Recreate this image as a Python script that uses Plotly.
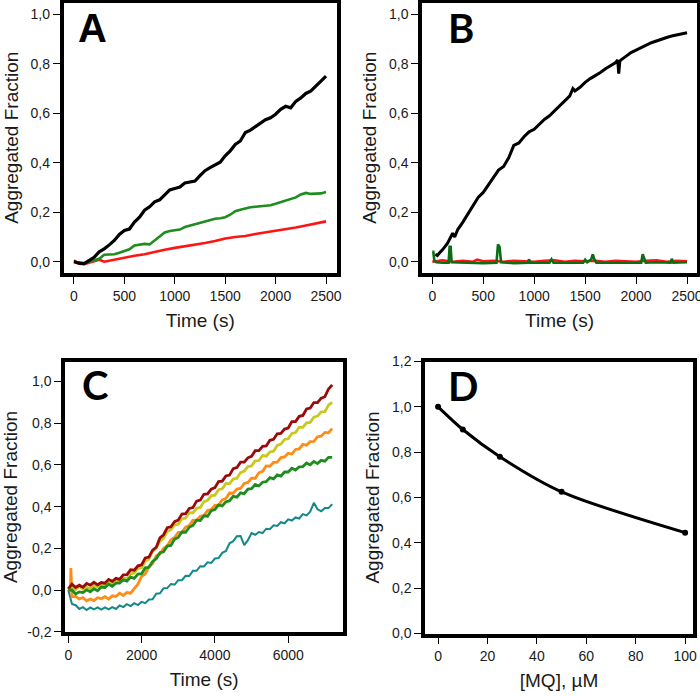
import plotly.graph_objects as go

# ---------------- Panel A ----------------
tA_black = [0, 50, 100, 150, 200, 250, 300, 350, 400, 450, 500, 550, 600, 650, 700, 750, 800, 850, 900, 950,
            1000, 1050, 1100, 1150, 1200, 1250, 1300, 1350, 1400, 1450, 1500, 1550, 1600, 1650, 1700, 1750,
            1800, 1850, 1900, 1950, 2000, 2050, 2100, 2150, 2200, 2250, 2300, 2350, 2400, 2450, 2500]
yA_black = [0.000, -0.006, -0.008, 0.004, 0.018, 0.040, 0.052, 0.068, 0.086, 0.110, 0.126, 0.132, 0.160, 0.180,
            0.208, 0.222, 0.242, 0.250, 0.268, 0.290, 0.296, 0.302, 0.318, 0.322, 0.326, 0.348, 0.368, 0.380,
            0.392, 0.402, 0.428, 0.448, 0.474, 0.488, 0.522, 0.532, 0.546, 0.560, 0.574, 0.582, 0.596, 0.616,
            0.628, 0.622, 0.648, 0.662, 0.680, 0.690, 0.712, 0.730, 0.750]
tA_green = tA_black
yA_green = [0.000, -0.004, -0.006, 0.000, 0.006, 0.012, 0.028, 0.030, 0.030, 0.036, 0.042, 0.050, 0.066, 0.070,
            0.072, 0.070, 0.086, 0.100, 0.118, 0.124, 0.126, 0.130, 0.140, 0.146, 0.150, 0.158, 0.164, 0.168,
            0.174, 0.176, 0.180, 0.190, 0.204, 0.210, 0.216, 0.220, 0.222, 0.224, 0.228, 0.228, 0.234, 0.240,
            0.246, 0.252, 0.260, 0.272, 0.278, 0.274, 0.274, 0.276, 0.282]
tA_red = [0, 50, 100, 150, 200, 250, 300, 350, 400, 500, 600, 700, 800, 900, 1000, 1100, 1200, 1300, 1400,
          1500, 1600, 1700, 1800, 1900, 2000, 2100, 2200, 2300, 2400, 2500]
yA_red = [0.006, -0.008, -0.010, -0.004, 0.004, 0.008, 0.000, 0.004, 0.010, 0.016, 0.024, 0.030, 0.040, 0.048,
          0.056, 0.062, 0.068, 0.076, 0.084, 0.094, 0.100, 0.104, 0.112, 0.118, 0.126, 0.132, 0.138, 0.146,
          0.154, 0.163]

# ---------------- Panel B ----------------
tB_black = [30, 50, 80, 100, 150, 200, 220, 250, 300, 350, 400, 450, 500, 550, 600, 650, 700, 750, 800, 850,
            900, 950, 1000, 1050, 1100, 1150, 1200, 1250, 1300, 1350, 1380, 1400, 1450, 1500, 1550, 1600, 1650,
            1700, 1750, 1800, 1820, 1830, 1840, 1850, 1900, 1950, 2000, 2050, 2100, 2150, 2200, 2250, 2300,
            2350, 2400, 2450, 2500]
yB_black = [0.030, 0.025, 0.040, 0.048, 0.075, 0.115, 0.100, 0.130, 0.160, 0.195, 0.225, 0.260, 0.280, 0.310,
            0.340, 0.370, 0.385, 0.420, 0.470, 0.480, 0.505, 0.525, 0.535, 0.555, 0.575, 0.590, 0.610, 0.630,
            0.650, 0.670, 0.700, 0.690, 0.705, 0.725, 0.740, 0.752, 0.765, 0.780, 0.792, 0.805, 0.815, 0.760,
            0.810, 0.815, 0.830, 0.845, 0.855, 0.865, 0.878, 0.885, 0.892, 0.900, 0.906, 0.912, 0.917, 0.920,
            0.925]
tB_red = [0, 100, 200, 300, 400, 440, 500, 600, 700, 800, 900, 1000, 1100, 1200, 1300, 1400, 1500, 1600, 1700,
          1800, 1900, 2000, 2100, 2200, 2300, 2400, 2500]
yB_red = [0.000, 0.006, 0.000, 0.004, 0.000, 0.008, 0.002, 0.004, 0.000, 0.004, 0.002, 0.000, 0.004, 0.006,
          0.000, 0.004, 0.002, 0.004, 0.000, 0.004, 0.002, 0.000, 0.004, 0.006, 0.000, 0.004, 0.002]
tB_green = [0, 10, 20, 40, 100, 160, 170, 180, 190, 300, 500, 630, 645, 660, 675, 800, 940, 950, 960, 1150,
            1170, 1190, 1480, 1500, 1520, 1560, 1575, 1590, 1610, 1900, 2050, 2065, 2080, 2095, 2200, 2340,
            2350, 2365, 2500]
yB_green = [0.040, 0.040, 0.005, -0.002, -0.004, -0.004, 0.060, 0.060, -0.002, -0.004, -0.006, -0.004, 0.070,
            0.060, -0.002, -0.006, -0.004, 0.010, -0.004, -0.004, 0.010, -0.004, -0.004, 0.008, -0.002, 0.010,
            0.030, 0.010, -0.004, -0.004, -0.004, 0.030, 0.010, -0.004, -0.002, -0.004, 0.012, -0.004, -0.002]

# ---------------- Panel C ----------------
tC = [0, 100, 200, 300, 400, 500, 600, 700, 800, 900, 1000, 1100, 1200, 1300, 1400, 1500, 1600, 1700, 1800,
      1900, 2000, 2100, 2200, 2300, 2400, 2500, 2600, 2700, 2800, 2900, 3000, 3100, 3200, 3300, 3400, 3500,
      3600, 3700, 3800, 3900, 4000, 4100, 4200, 4300, 4400, 4500, 4600, 4700, 4800, 4900, 5000, 5100, 5200,
      5300, 5400, 5500, 5600, 5700, 5800, 5900, 6000, 6100, 6200, 6300, 6400, 6500, 6600, 6700, 6800, 6900,
      7000, 7100, 7200]
yC_darkred = [0.005, 0.028, 0.012, 0.023, 0.013, 0.031, 0.023, 0.037, 0.025, 0.036, 0.033, 0.051, 0.042, 0.056,
              0.051, 0.073, 0.074, 0.097, 0.095, 0.116, 0.121, 0.154, 0.158, 0.191, 0.205, 0.250, 0.265, 0.299,
              0.303, 0.328, 0.335, 0.364, 0.366, 0.391, 0.395, 0.426, 0.431, 0.459, 0.461, 0.484, 0.491, 0.520,
              0.522, 0.547, 0.551, 0.582, 0.587, 0.613, 0.613, 0.634, 0.641, 0.668, 0.668, 0.689, 0.691, 0.718,
              0.723, 0.749, 0.751, 0.772, 0.777, 0.808, 0.808, 0.833, 0.837, 0.868, 0.873, 0.899, 0.899, 0.920,
              0.927, 0.964, 0.984]
yC_yellow = [0.000, 0.012, 0.002, 0.017, 0.004, 0.014, 0.006, 0.021, 0.016, 0.028, 0.021, 0.037, 0.031, 0.049,
             0.040, 0.056, 0.054, 0.077, 0.082, 0.104, 0.107, 0.137, 0.149, 0.187, 0.200, 0.234, 0.248, 0.281,
             0.290, 0.312, 0.315, 0.341, 0.345, 0.371, 0.370, 0.392, 0.396, 0.423, 0.430, 0.452, 0.455, 0.481,
             0.485, 0.511, 0.510, 0.532, 0.536, 0.563, 0.570, 0.592, 0.595, 0.619, 0.621, 0.645, 0.642, 0.662,
             0.666, 0.693, 0.700, 0.722, 0.725, 0.751, 0.755, 0.781, 0.780, 0.802, 0.804, 0.829, 0.834, 0.854,
             0.855, 0.887, 0.900]
tC_orange = [0, 60, 70, 80, 100, 200, 300, 400, 500, 600, 700, 800, 900, 1000, 1100, 1200, 1300, 1400, 1500,
             1600, 1700, 1800, 1900, 2000, 2100, 2200, 2300, 2400, 2500, 2600, 2700, 2800, 2900, 3000, 3100,
             3200, 3300, 3400, 3500, 3600, 3700, 3800, 3900, 4000, 4100, 4200, 4300, 4400, 4500, 4600, 4700,
             4800, 4900, 5000, 5100, 5200, 5300, 5400, 5500, 5600, 5700, 5800, 5900, 6000, 6100, 6200, 6300,
             6400, 6500, 6600, 6700, 6800, 6900, 7000, 7100, 7200]
yC_orange = [0.000, 0.000, 0.105, -0.010, -0.033, -0.031, -0.043, -0.036, -0.052, -0.043, -0.051, -0.037,
             -0.042, -0.032, -0.043, -0.028, -0.031, -0.015, -0.026, -0.012, -0.015, 0.007, 0.028, 0.066,
             0.077, 0.112, 0.127, 0.164, 0.172, 0.200, 0.211, 0.241, 0.252, 0.276, 0.276, 0.302, 0.309, 0.335,
             0.334, 0.354, 0.357, 0.381, 0.386, 0.406, 0.406, 0.432, 0.439, 0.465, 0.464, 0.484, 0.487, 0.511,
             0.516, 0.536, 0.536, 0.562, 0.569, 0.595, 0.594, 0.612, 0.613, 0.635, 0.638, 0.656, 0.652, 0.674,
             0.677, 0.699, 0.694, 0.712, 0.713, 0.735, 0.738, 0.756, 0.754, 0.774]
yC_green = [0.000, 0.000, -0.019, -0.009, -0.012, 0.001, -0.009, 0.006, -0.004, 0.014, 0.012, 0.028, 0.018,
            0.033, 0.033, 0.049, 0.043, 0.062, 0.056, 0.076, 0.078, 0.106, 0.109, 0.137, 0.150, 0.179, 0.183,
            0.211, 0.214, 0.244, 0.252, 0.278, 0.277, 0.301, 0.310, 0.335, 0.333, 0.356, 0.354, 0.380, 0.386,
            0.408, 0.403, 0.423, 0.428, 0.449, 0.445, 0.466, 0.462, 0.484, 0.486, 0.506, 0.499, 0.517, 0.520,
            0.539, 0.533, 0.552, 0.546, 0.566, 0.566, 0.584, 0.575, 0.591, 0.592, 0.609, 0.600, 0.616, 0.606,
            0.622, 0.618, 0.636, 0.636]
yC_teal = [0.000, -0.067, -0.073, -0.091, -0.082, -0.096, -0.084, -0.093, -0.083, -0.094, -0.083, -0.093,
           -0.082, -0.091, -0.074, -0.082, -0.068, -0.077, -0.063, -0.072, -0.057, -0.063, -0.046, -0.045,
           -0.018, -0.016, 0.008, 0.009, 0.029, 0.026, 0.047, 0.047, 0.068, 0.067, 0.092, 0.092, 0.114, 0.113,
           0.133, 0.130, 0.151, 0.153, 0.178, 0.187, 0.224, 0.234, 0.258, 0.259, 0.215, 0.239, 0.273, 0.265,
           0.278, 0.273, 0.294, 0.292, 0.310, 0.307, 0.325, 0.320, 0.339, 0.333, 0.348, 0.343, 0.364, 0.358,
           0.376, 0.418, 0.387, 0.378, 0.393, 0.393, 0.412]

# ---------------- Panel D ----------------
xD_mq = [0, 10, 25, 50, 100]
yD_frac = [1.000, 0.900, 0.780, 0.625, 0.445]

# ---------------- tick labels ----------------
time_ticks_AB = [0, 500, 1000, 1500, 2000, 2500]
time_text_AB = ["0", "500", "1000", "1500", "2000", "2500"]
frac_ticks_AB = [0.0, 0.2, 0.4, 0.6, 0.8, 1.0]
frac_text_AB = ["0,0", "0,2", "0,4", "0,6", "0,8", "1,0"]
time_ticks_C = [0, 2000, 4000, 6000]
time_text_C = ["0", "2000", "4000", "6000"]
frac_ticks_C = [-0.2, 0.0, 0.2, 0.4, 0.6, 0.8, 1.0]
frac_text_C = ["-0,2", "0,0", "0,2", "0,4", "0,6", "0,8", "1,0"]
mq_ticks_D = [0, 20, 40, 60, 80, 100]
mq_text_D = ["0", "20", "40", "60", "80", "100"]
frac_ticks_D = [0.0, 0.2, 0.4, 0.6, 0.8, 1.0, 1.2]
frac_text_D = ["0,0", "0,2", "0,4", "0,6", "0,8", "1,0", "1,2"]

FONT = "Liberation Sans, Arial, sans-serif"
W, H = 700, 696

fig = go.Figure()

def line(x, y, color, width, xa, ya):
    fig.add_trace(go.Scatter(x=x, y=y, mode="lines", line=dict(color=color, width=width),
                             xaxis=xa, yaxis=ya, showlegend=False, hoverinfo="skip"))

# A
line(tA_red, yA_red, "#ff1414", 2.6, "x", "y")
line(tA_green, yA_green, "#1e8c1e", 2.6, "x", "y")
line(tA_black, yA_black, "#000000", 3.2, "x", "y")
# B
line(tB_black, yB_black, "#000000", 3.0, "x2", "y2")
line(tB_red, yB_red, "#ff1414", 2.6, "x2", "y2")
line(tB_green, yB_green, "#0a6e14", 2.6, "x2", "y2")
# C
line(tC, yC_teal, "#11898b", 2.0, "x3", "y3")
line(tC_orange, yC_orange, "#ff8c14", 2.8, "x3", "y3")
line(tC, yC_yellow, "#c8c81e", 2.8, "x3", "y3")
line(tC, yC_darkred, "#9b0a0a", 2.8, "x3", "y3")
line(tC, yC_green, "#1e8c1e", 2.8, "x3", "y3")
# D
fig.add_trace(go.Scatter(x=xD_mq, y=yD_frac, mode="lines+markers",
                         line=dict(color="black", width=3, shape="spline", smoothing=0.8),
                         marker=dict(color="black", size=6),
                         xaxis="x4", yaxis="y4", showlegend=False, hoverinfo="skip"))

def ax(domain, rng, tv, tt, title, anchor, standoff):
    return dict(domain=domain, range=rng, tickvals=tv, ticktext=tt, anchor=anchor,
                showline=True, linewidth=3.5, linecolor="black", mirror=True,
                ticks="outside", ticklen=7, tickwidth=1, tickcolor="black",
                showgrid=False, zeroline=False, automargin=False, ticklabeloverflow="allow",
                tickfont=dict(family=FONT, size=14, color="#1a1a1a"),
                title=dict(text=title, font=dict(family=FONT, size=19, color="#1a1a1a"), standoff=standoff))

def px_x(p):
    return p / W

def px_y(p):
    return 1 - p / H

fig.update_layout(
    width=W, height=H, margin=dict(l=0, r=0, t=0, b=0),
    paper_bgcolor="white", plot_bgcolor="white",
    xaxis=ax([px_x(63.5), px_x(337)], [-104, 2609], time_ticks_AB, time_text_AB, "Time (s)", "y", 12),
    yaxis=ax([px_y(273), px_y(2.5)], [-0.0456, 1.0476], frac_ticks_AB, frac_text_AB, "Aggregated Fraction", "x", 8),
    xaxis2=ax([px_x(422), px_x(697)], [-101, 2598], time_ticks_AB, time_text_AB, "Time (s)", "y2", 12),
    yaxis2=ax([px_y(273), px_y(2.5)], [-0.0456, 1.0476], frac_ticks_AB, frac_text_AB, "Aggregated Fraction", "x2", 8),
    xaxis3=ax([px_x(65), px_x(343.3)], [-90, 7503], time_ticks_C, time_text_C, "Time (s)", "y3", 12),
    yaxis3=ax([px_y(632), px_y(362)], [-0.2014, 1.0935], frac_ticks_C, frac_text_C, "Aggregated Fraction", "x3", 8),
    xaxis4=ax([px_x(425), px_x(693)], [-5.3, 103.2], mq_ticks_D, mq_text_D, "[MQ], µM", "y4", 12),
    yaxis4=ax([px_y(633.5), px_y(361.5)], [0, 1.2], frac_ticks_D, frac_text_D, "Aggregated Fraction", "x4", 8),
)

letters = [("A", 76, 27.5, "Liberation Sans, Arial, sans-serif"),
           ("B", 446, 28, "Lato, sans-serif"),
           ("C", 80, 385, "Lato, sans-serif"),
           ("D", 446, 386, "Lato, sans-serif")]
for txt, lx, ly, fam in letters:
    fig.add_annotation(text="<b>" + txt + "</b>", x=px_x(lx), y=px_y(ly), xref="paper", yref="paper",
                       xanchor="left", yanchor="middle", showarrow=False,
                       font=dict(family=fam, size=40, color="black"))

fig.write_html("out.html", config={"displayModeBar": False},
               post_script="document.body.style.margin='0';document.body.style.overflow='hidden';")
